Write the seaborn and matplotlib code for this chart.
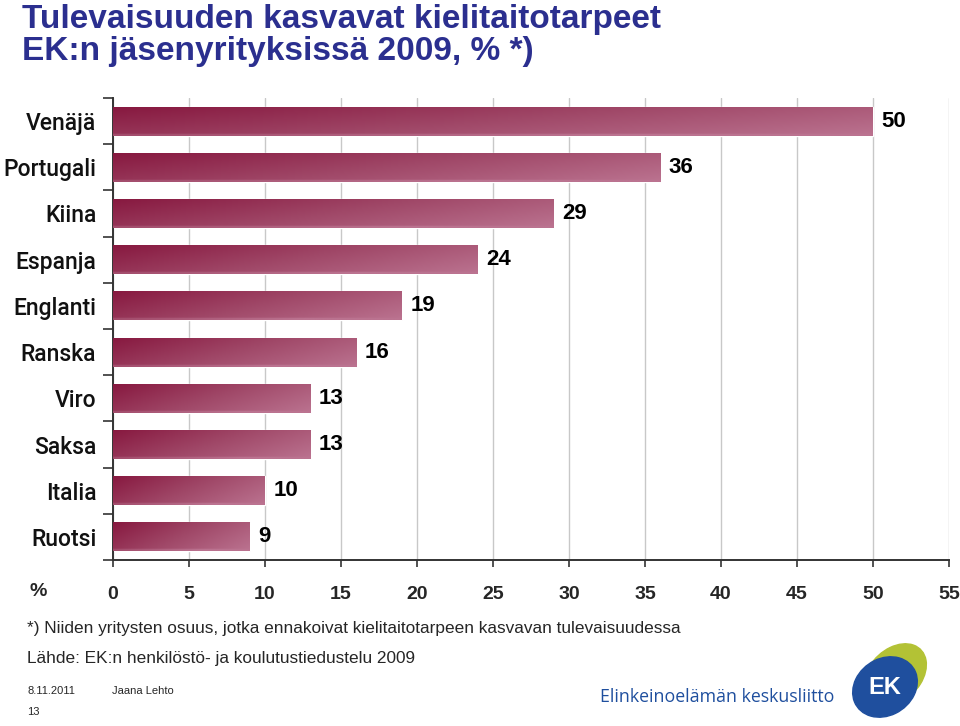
import numpy as np
import pandas as pd
import matplotlib
matplotlib.use("Agg")
import matplotlib.pyplot as plt
import matplotlib.patches as mpatches
from matplotlib.colors import LinearSegmentedColormap
import seaborn as sns

languages = ["Venäjä", "Portugali", "Kiina", "Espanja", "Englanti",
             "Ranska", "Viro", "Saksa", "Italia", "Ruotsi"]
shares = [50, 36, 29, 24, 19, 16, 13, 13, 10, 9]
x_ticks = [0, 5, 10, 15, 20, 25, 30, 35, 40, 45, 50, 55]

title = "Tulevaisuuden kasvavat kielitaitotarpeet\nEK:n jäsenyrityksissä 2009, % *)"
note = "*) Niiden yritysten osuus, jotka ennakoivat kielitaitotarpeen kasvavan tulevaisuudessa"
source = "Lähde: EK:n henkilöstö- ja koulutustiedustelu 2009"

sns.set_theme(style="white")
plt.rcParams["font.family"] = ["Liberation Sans", "DejaVu Sans"]

df = pd.DataFrame({"kieli": languages, "osuus": shares})

fig = plt.figure(figsize=(9.6, 7.26), dpi=100)
ax = fig.add_axes([113 / 960, 1 - 560 / 726, (949 - 113) / 960, (560 - 98) / 726])

sns.barplot(data=df, x="osuus", y="kieli", orient="h", color="#9c3a5c",
            width=0.63, ax=ax, zorder=2)

# gradient fill for each bar, dark on the left/top, lighter to the right/bottom
cmap = LinearSegmentedColormap.from_list("bar", ["#87183f", "#a04868", "#bb7390"])
gx, gy = np.meshgrid(np.linspace(0, 1, 200), np.linspace(0, 1, 40))
grad = 0.7 * gx + 0.3 * gy
grad[-3:, :] = np.clip(grad[-3:, :] + 0.25, 0, 1)
for p in ax.patches:
    x0, y0 = p.get_x(), p.get_y()
    w, h = p.get_width(), p.get_height()
    im = ax.imshow(grad, cmap=cmap, extent=[x0, x0 + w, y0 + h, y0],
                   aspect="auto", zorder=3, interpolation="bilinear")
    im.set_clip_path(p)

ax.bar_label(ax.containers[0], padding=6, fontsize=16, fontweight="bold",
             color="black")

ax.set_xlim(0, 55)
ax.set_ylim(len(languages) - 0.5, -0.5)
ax.set_xticks(x_ticks)
ax.set_xticklabels([str(t) for t in x_ticks], fontsize=14, fontweight="bold")
ax.set_xlabel("")
ax.set_ylabel("")
ax.grid(axis="x", color="#c8c8c8", linewidth=1, zorder=0)
ax.set_axisbelow(True)

# category labels between tick marks at category boundaries
ax.set_yticks(np.arange(-0.5, len(languages), 1.0))
ax.set_yticklabels([])
ax.set_yticks(np.arange(len(languages)), minor=True)
ax.set_yticklabels(languages, minor=True, fontsize=16.5, fontweight="medium",
                   family=["Roboto", "Liberation Sans"])
ax.tick_params(axis="y", which="major", length=7, width=1.2, color="#333333",
               direction="out", left=True)
ax.tick_params(axis="y", which="minor", length=0, pad=12, labelcolor="#111111")
ax.tick_params(axis="x", length=5, width=1.2, color="#333333", direction="out",
               bottom=True, pad=14)

for side in ["top", "right"]:
    ax.spines[side].set_visible(False)
for side in ["left", "bottom"]:
    ax.spines[side].set_color("#333333")
    ax.spines[side].set_linewidth(1.4)

fig.text(38 / 960, 1 - 591 / 726, "%", fontsize=14, fontweight="bold",
         ha="center", va="center")

fig.text(22 / 960, 1 - 4 / 726, title, fontsize=24, fontweight="bold",
         color="#2b2f8f", ha="left", va="top", linespacing=1.05)

fig.text(27 / 960, 1 - 628 / 726, note, fontsize=12.4, ha="left", va="center")
fig.text(27 / 960, 1 - 659 / 726, source, fontsize=12.4, ha="left", va="center")
fig.text(27 / 960, 1 - 691 / 726, "8.11.2011", fontsize=8, ha="left", va="center")
fig.text(112 / 960, 1 - 691 / 726, "Jaana Lehto", fontsize=8, ha="left", va="center")
fig.text(27 / 960, 1 - 712 / 726, "13", fontsize=8, ha="left", va="center")

# organisation logo
fig.text(600 / 960, 1 - 697 / 726, "Elinkeinoelämän keskusliitto", fontsize=12.8,
         color="#1f4f9e", ha="left", va="center", family=["Open Sans", "DejaVu Sans"])
green = mpatches.Ellipse((895 / 960, 1 - 675 / 726), 56 / 960, 66 / 726, angle=-25,
                         transform=fig.transFigure, color="#b3c235", zorder=5)
blue = mpatches.Ellipse((885 / 960, 1 - 687 / 726), 62 / 960, 62 / 726, angle=-20,
                        transform=fig.transFigure, color="#1f4f9e", zorder=6)
fig.add_artist(green)
fig.add_artist(blue)
fig.text(885 / 960, 1 - 687 / 726, "EK", fontsize=17, fontweight="bold",
         color="white", ha="center", va="center", zorder=7)

fig.savefig("out.png", dpi=100)
